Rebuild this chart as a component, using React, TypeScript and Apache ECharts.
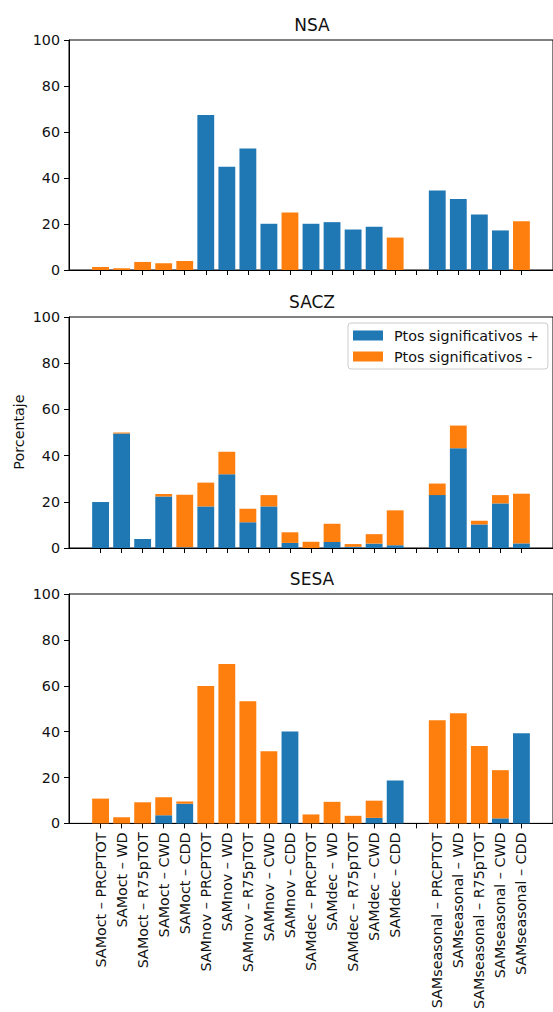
import React, { useEffect, useRef } from "react";
import * as echarts from "echarts";

const panelTitles = ["NSA", "SACZ", "SESA"];
const seriesNames = ["Ptos significativos +", "Ptos significativos -"];
const yTicks = [0, 20, 40, 60, 80, 100];

const categories = [
  "SAMoct – PRCPTOT", "SAMoct – WD", "SAMoct – R75pTOT", "SAMoct – CWD", "SAMoct – CDD",
  "SAMnov – PRCPTOT", "SAMnov – WD", "SAMnov – R75pTOT", "SAMnov – CWD", "SAMnov – CDD",
  "SAMdec – PRCPTOT", "SAMdec – WD", "SAMdec – R75pTOT", "SAMdec – CWD", "SAMdec – CDD",
  "",
  "SAMseasonal – PRCPTOT", "SAMseasonal – WD", "SAMseasonal – R75pTOT", "SAMseasonal – CWD", "SAMseasonal – CDD",
];

// NSA
const nsaPos = [0, 0, 0, 0, 0, 67.4, 44.9, 52.8, 20.1, 0, 20.1, 20.8, 17.6, 18.8, 0, null, 34.6, 30.9, 24.1, 17.2, 0];
const nsaNeg = [1.3, 0.8, 3.5, 2.9, 3.9, 0, 0, 0, 0, 25.0, 0, 0, 0, 0, 14.1, null, 0, 0, 0, 0, 21.2];
// SACZ
const saczPos = [19.9, 49.6, 3.9, 22.3, 0.3, 18.0, 31.9, 11.2, 18.0, 2.2, 0, 2.6, 0.5, 1.9, 1.2, null, 22.9, 43.2, 10.2, 19.3, 2.0];
const saczNeg = [0, 0.4, 0, 1.1, 22.7, 10.3, 9.8, 5.8, 4.9, 4.6, 2.7, 7.9, 1.2, 4.1, 15.1, null, 5.0, 9.8, 1.6, 3.6, 21.5];
// SESA
const sesaPos = [0, 0, 0, 3.6, 8.6, 0, 0, 0, 0, 40.1, 0, 0, 0, 2.4, 18.7, null, 0, 0, 0, 2.2, 39.3];
const sesaNeg = [10.8, 2.7, 9.2, 7.8, 0.9, 59.9, 69.5, 53.2, 31.4, 0, 3.9, 9.4, 3.3, 7.5, 0, null, 45.0, 48.0, 33.7, 21.0, 0];

const panelPos = [nsaPos, saczPos, sesaPos];
const panelNeg = [nsaNeg, saczNeg, sesaNeg];

const BLUE = "#1f77b4";
const ORANGE = "#ff7f0e";
const FONT = "DejaVu Sans";
const TEXT = "#111";
const FS = 14.3;

export default function App() {
  const ref = useRef<HTMLDivElement>(null);

  useEffect(() => {
    if (!ref.current) return;
    const chart = echarts.init(ref.current, undefined, { renderer: "svg" });

    const padded = ["", ...categories, ""];
    const pad = (a: (number | null)[]) => [null, ...a, null];
    const tickOn = (i: number) => i >= 1 && i <= categories.length;

    const tops = [40, 317, 594];
    const heights = [230, 231, 231];
    const gridLeft = 69;
    const gridWidth = 486;

    const grids = tops.map((t, i) => ({
      left: gridLeft,
      top: t,
      width: gridWidth,
      height: heights[i],
      show: true,
      borderColor: "#000",
      borderWidth: 1,
      backgroundColor: "transparent",
    }));

    const xAxes = tops.map((_, i) => ({
      type: "category",
      gridIndex: i,
      data: padded,
      boundaryGap: true,
      axisLine: { show: true, lineStyle: { color: "#000", width: 1 } },
      axisTick: { show: true, alignWithLabel: true, interval: (idx: number) => tickOn(idx), length: 5, lineStyle: { color: "#000" } },
      axisLabel: {
        show: i === 2,
        interval: (idx: number) => tickOn(idx),
        rotate: 90,
        margin: 9,
        fontSize: FS,
        fontFamily: FONT,
        color: TEXT,
      },
      splitLine: { show: false },
    }));

    const yAxes = tops.map((_, i) => ({
      type: "value",
      gridIndex: i,
      min: 0,
      max: 100,
      interval: 20,
      axisLine: { show: true, lineStyle: { color: "#000", width: 1 } },
      axisTick: { show: true, length: 5, lineStyle: { color: "#000" } },
      axisLabel: { fontSize: FS, fontFamily: FONT, color: TEXT, margin: 9, formatter: (v: number) => (yTicks.includes(v) ? String(v) : "") },
      splitLine: { show: false },
    }));

    const series: any[] = [];
    for (let i = 0; i < 3; i++) {
      series.push({
        name: seriesNames[0],
        type: "bar",
        xAxisIndex: i,
        yAxisIndex: i,
        stack: "p" + i,
        data: pad(panelPos[i]),
        barWidth: "80%",
        itemStyle: { color: BLUE },
      });
      series.push({
        name: seriesNames[1],
        type: "bar",
        xAxisIndex: i,
        yAxisIndex: i,
        stack: "p" + i,
        data: pad(panelNeg[i]),
        barWidth: "80%",
        itemStyle: { color: ORANGE },
      });
    }

    const titleCenter = gridLeft + gridWidth / 2;

    chart.setOption({
      animation: false,
      backgroundColor: "#fff",
      textStyle: { fontFamily: FONT },
      title: panelTitles.map((t, i) => ({
        text: t,
        left: titleCenter,
        textAlign: "center",
        top: tops[i] - 24,
        padding: 0,
        textStyle: { fontSize: 17, fontWeight: "normal", fontFamily: FONT, color: TEXT, lineHeight: 17 },
      })),
      legend: {
        data: seriesNames,
        orient: "vertical",
        left: 348,
        top: 323,
        itemWidth: 30,
        itemHeight: 10,
        itemGap: 6,
        icon: "rect",
        padding: [5, 9, 5, 5],
        backgroundColor: "rgba(255,255,255,0.8)",
        borderColor: "#ccc",
        borderWidth: 1,
        borderRadius: 3,
        textStyle: { fontSize: FS, fontFamily: FONT, color: TEXT, lineHeight: 15, padding: [0, 0, 0, 6] },
      },
      grid: grids,
      xAxis: xAxes,
      yAxis: yAxes,
      series,
      graphic: [
        {
          type: "text",
          x: 19,
          y: 432,
          rotation: Math.PI / 2,
          style: {
            text: "Porcentaje",
            fontSize: FS,
            fontFamily: FONT,
            fill: TEXT,
            textAlign: "center",
            textVerticalAlign: "middle",
          },
        },
      ],
    });

    return () => chart.dispose();
  }, []);

  return <div ref={ref} style={{ position: "absolute", left: 0, top: 0, width: 553, height: 1012 }} />;
}
